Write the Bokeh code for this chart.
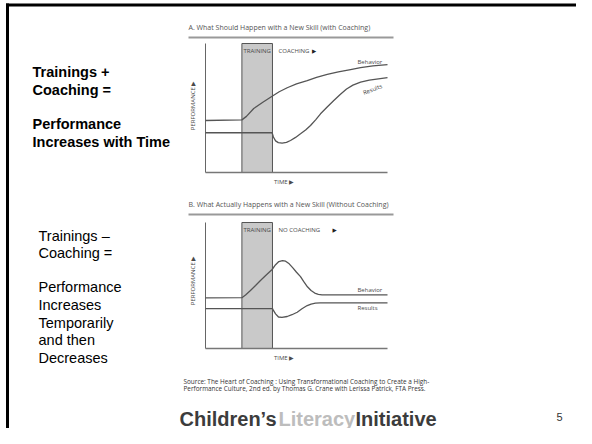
from bokeh.plotting import figure
from bokeh.models import Range1d, Label
from bokeh.embed import file_html
from bokeh.resources import INLINE
from bokeh.core.properties import value

# ---------------- data (time 0-100, performance 0-100) ----------------
training_start = [20.0]
training_end = [36.8]
axis_t = [0, 100]
axis_p = [0, 100]

a_behavior_t = [0, 20, 22.5, 26.5, 31.5, 36.6, 40.5, 44.9, 50, 55.9, 61, 66.9, 73, 79.7, 85.2, 92, 100]
a_behavior_y = [40.3, 40.8, 43.5, 49.6, 54.5, 59.1, 62.6, 65.7, 68.7, 71.3, 73.8, 76, 78, 79.8, 81.3, 82.6, 83.6]
a_results_t = [0, 36.6, 37.3, 38.5, 40, 42.1, 44.5, 46.7, 49.5, 52.2, 55, 57.7, 60.5, 63.2, 67, 70.5, 74, 77.5, 81, 85.2, 90, 95, 100]
a_results_y = [30.8, 30.8, 27.5, 24.5, 23.2, 22.7, 23.3, 24.8, 27.2, 30, 33, 36.4, 40.8, 45.5, 51, 55.8, 60.5, 64.7, 67.7, 70, 71.6, 72.6, 73.5]

b_behavior_t = [0, 20, 22, 24.7, 27.5, 30.2, 33.5, 36.6, 38.5, 40.3, 42.3, 44, 46, 48, 50, 52.2, 54, 56, 58, 60, 62, 64, 67, 100]
b_behavior_y = [40.2, 40.3, 42.5, 46, 50, 54, 58.5, 62.7, 66.5, 69, 69.8, 69.3, 67.2, 64, 60.5, 57, 53, 49, 46, 44, 43, 42.6, 42.6, 42.6]
b_results_t = [0, 36.8, 37.4, 38.5, 40.1, 42, 44.9, 47.5, 50.4, 53, 55.9, 58, 60.4, 63, 100]
b_results_y = [31.7, 31.7, 30, 27.5, 25, 24.7, 25.4, 26.8, 28.8, 31.5, 34.1, 35.3, 36, 36.2, 36.2]

title_a = "A. What Should Happen with a New Skill (with Coaching)"
title_b = "B. What Actually Happens with a New Skill (Without Coaching)"
text_a = ["Trainings +", "Coaching =", "Performance", "Increases with Time"]
text_a_y = [71, 89, 123, 141]
text_b = ["Trainings \u2013", "Coaching =", "Performance", "Increases", "Temporarily", "and then", "Decreases"]
text_b_y = [235, 252, 286, 304, 322, 339, 357]
source_lines = ["Source: The Heart of Coaching : Using Transformational Coaching to Create a High-",
                "Performance Culture, 2nd ed. by Thomas G. Crane with Lerissa Patrick, FTA Press."]

# ---------------- page figure (reference pixel coordinates) ----------------
p = figure(width=576, height=428, x_range=Range1d(0, 576), y_range=Range1d(428, 0),
           output_backend="svg", toolbar_location=None, min_border=0,
           x_axis_type=None, y_axis_type=None)
p.grid.visible = False
p.outline_line_color = None
p.background_fill_color = "white"

# slide border
p.line(x=[7, 7], y=[3, 428], line_color="black", line_width=3)
p.line(x=[5.5, 576], y=[4.5, 4.5], line_color="black", line_width=3)

CH = "#4a4a4a"
SMALL = "6px"


def label(x, y, text, size, font="Open Sans", color=CH, style="normal", align="left", angle=0.0):
    p.add_layout(Label(x=x, y=y, text=text, text_font=font, text_font_size=size,
                       text_color=color, text_font_style=style, text_align=align,
                       text_baseline="middle", angle=angle))


def panel(y_top, y_base, beh_t, beh_y, res_t, res_y, title, title_y, coach_text, coach_arrow_t,
          beh_lab_p, res_lab, perf_mid):
    sub = p.subplot(x_source=Range1d(0, 100), y_source=Range1d(0, 100),
                    x_target=Range1d(205, 387), y_target=Range1d(y_base, y_top))
    sub.quad(left=training_start, right=training_end, bottom=[0], top=[100],
             fill_color="#c9c9c9", line_color="#555555", line_width=1)
    sub.line(x=[0, 0], y=axis_p, line_color="#666666", line_width=1)
    sub.line(x=axis_t, y=[0, 0], line_color="#777777", line_width=1.5)
    sub.line(x=beh_t, y=beh_y, line_color="#555555", line_width=1.3)
    sub.line(x=res_t, y=res_y, line_color="#555555", line_width=1.3)
    f = value("Open Sans")
    sub.text(x=[(training_start[0] + training_end[0]) / 2], y=[94], text=["TRAINING"], text_font=f,
             text_font_size=SMALL, text_color=CH, text_align="center", text_baseline="middle")
    sub.text(x=[40.1], y=[94], text=[coach_text], text_font=f,
             text_font_size=SMALL, text_color=CH, text_align="left", text_baseline="middle")
    sub.text(x=[coach_arrow_t], y=[94], text=["\u25b6"], text_font=value("DejaVu Sans"),
             text_font_size="5.5px", text_color="#222222", text_align="left", text_baseline="middle")
    sub.text(x=[37.6], y=[-7.5], text=["TIME \u25b6"], text_font=f,
             text_font_size=SMALL, text_color=CH, text_align="left", text_baseline="middle")
    sub.text(x=[-6.6], y=[perf_mid], text=["PERFORMANCE \u25b6"], text_font=f, angle=1.5708,
             text_font_size=SMALL, text_color=CH, text_align="center", text_baseline="middle")
    sub.text(x=[83.5], y=[beh_lab_p], text=["Behavior"], text_font=f,
             text_font_size=SMALL, text_color=CH, text_align="left", text_baseline="middle")
    sub.text(x=[res_lab[0]], y=[res_lab[1]], text=["Results"], text_font=f, angle=res_lab[2],
             text_font_size=SMALL, text_color=CH, text_align=res_lab[3], text_baseline="middle")
    label(188, title_y, title, "7px", color="#555555")
    p.line(x=[188, 393], y=[title_y + 10, title_y + 10], line_color="#999999", line_width=2)


panel(43, 172, a_behavior_t, a_behavior_y, a_results_t, a_results_y, title_a, 27,
      "COACHING", 58.5, 86, (91.8, 64.3, 0.37, "center"), 52)
panel(222, 348, b_behavior_t, b_behavior_y, b_results_t, b_results_y, title_b, 204,
      "NO COACHING", 69.8, 46.8, (83.5, 32.5, 0.0, "left"), 54)

# left texts
for t, y in zip(text_a, text_a_y):
    label(32, y, t, "14.5px", font="Liberation Sans", color="black", style="bold")
for t, y in zip(text_b, text_b_y):
    label(38, y, t, "14.5px", font="Liberation Sans", color="black")

# source
label(183, 381, source_lines[0], "6.4px", color="#333333")
label(183, 388, source_lines[1], "6.4px", color="#333333")

# logo and page number
for x, t, c in [(179, "Children\u2019s", "#3c3c3c"), (278, "Literacy", "#bdbdbd"), (355, "Initiative", "#3c3c3c")]:
    p.add_layout(Label(x=x, y=418, text=t, text_font="Liberation Sans", text_font_size="20px",
                       text_font_style="bold", text_color=c, text_align="left",
                       text_baseline="alphabetic"))
label(559, 416, "5", "11px", font="Liberation Sans", color="#333333", align="center")

open("out.html", "w").write(file_html(p, INLINE))
